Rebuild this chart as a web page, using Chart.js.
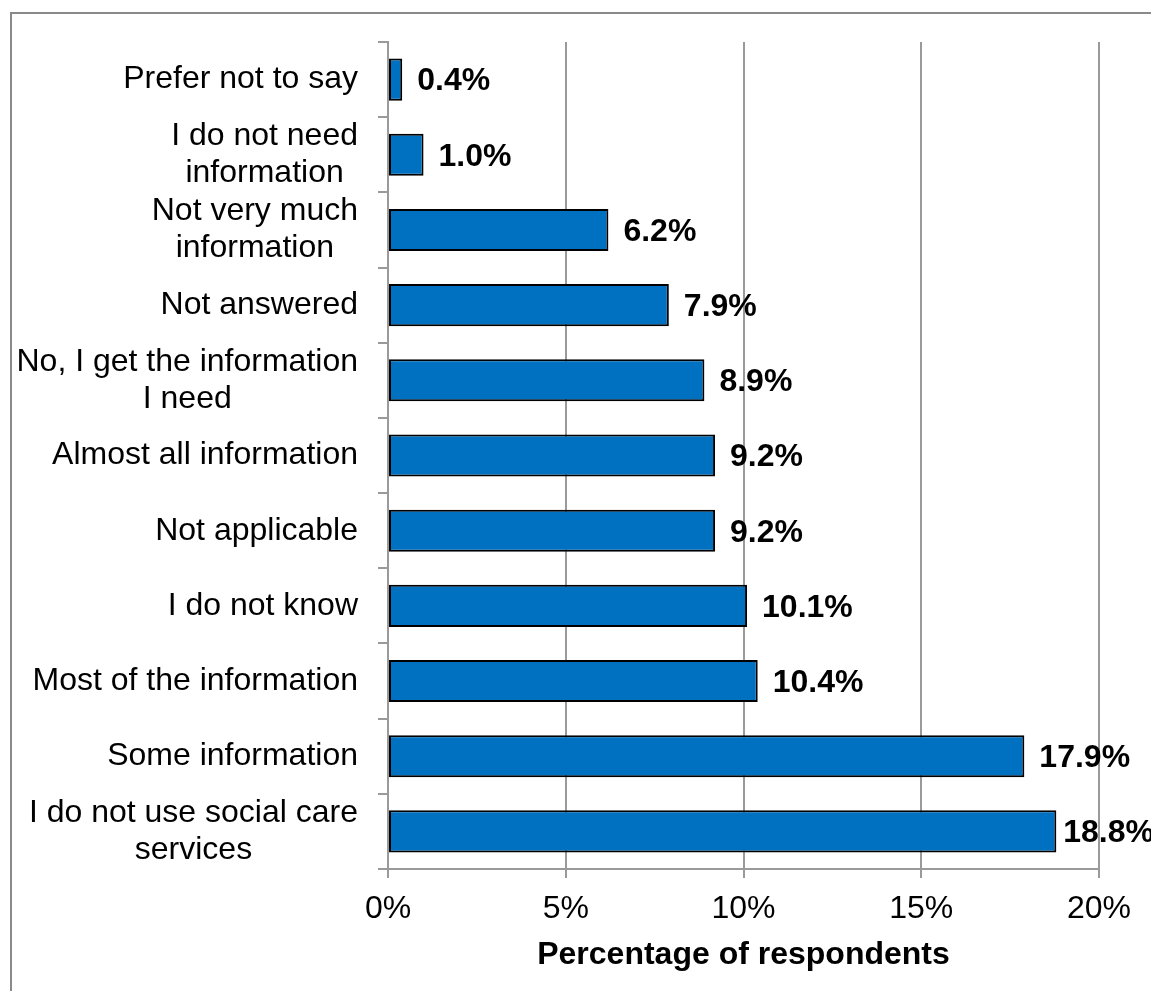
<!DOCTYPE html>
<html>
<head>
<meta charset="utf-8">
<script src="https://cdn.jsdelivr.net/npm/chart.js@4"></script>
<style>
    html, body { margin: 0; padding: 0; background: #fff; overflow: hidden; }
    #frame {
        position: absolute; left: 10px; top: 12px;
        width: 1300px; height: 1200px;
        border: 2px solid #8a8a8a; box-sizing: border-box;
    }
    #chart { position: absolute; left: 0; top: 0; }
</style>
</head>
<body>
<div id="frame"></div>
<canvas id="chart" width="1151" height="991"></canvas>
<script>
'use strict';

// answers, top of the chart first
const categories = [
    ['Prefer not to say'],
    ['I do not need', 'information'],
    ['Not very much', 'information'],
    ['Not answered'],
    ['No, I get the information', 'I need'],
    ['Almost all information'],
    ['Not applicable'],
    ['I do not know'],
    ['Most of the information'],
    ['Some information'],
    ['I do not use social care', 'services'],
];
const shares = [0.4, 1.0, 6.2, 7.9, 8.9, 9.2, 9.2, 10.1, 10.4, 17.9, 18.8];
const xTicks = [0, 5, 10, 15, 20];

const FONT = '"Liberation Sans", Arial, sans-serif';
const SIZE = 32;
const GRID = '#9a9a9a';

// category labels: each block right-aligned to the axis, lines centred within it
const categoryLabels = {
    id: 'categoryLabels',
    afterDraw(chart) {
        const ctx = chart.ctx;
        const y = chart.scales.y;
        const right = chart.chartArea.left - 30;
        const lineH = 37;
        ctx.save();
        ctx.font = `${SIZE}px ${FONT}`;
        ctx.fillStyle = '#000';
        ctx.textAlign = 'center';
        ctx.textBaseline = 'middle';
        categories.forEach((lines, i) => {
            const widest = Math.max(...lines.map(l => ctx.measureText(l).width));
            const cx = right - widest / 2;
            const cy = y.getPixelForValue(i);
            const top = cy - (lines.length - 1) * lineH / 2;
            lines.forEach((l, k) => ctx.fillText(l, cx, top + k * lineH));
        });
        ctx.restore();
    }
};

// bold value labels just past the end of each bar, pulled back near the edge
const valueLabels = {
    id: 'valueLabels',
    afterDatasetsDraw(chart) {
        const ctx = chart.ctx;
        const meta = chart.getDatasetMeta(0);
        ctx.save();
        ctx.font = `bold ${SIZE}px ${FONT}`;
        ctx.fillStyle = '#000';
        ctx.textAlign = 'left';
        ctx.textBaseline = 'middle';
        meta.data.forEach((bar, i) => {
            const text = shares[i].toFixed(1) + '%';
            const w = ctx.measureText(text).width;
            const x = Math.min(bar.x + 15, chart.width + 3 - w);
            ctx.fillText(text, x, bar.y + 2);
        });
        ctx.restore();
    }
};

new Chart(document.getElementById('chart'), {
    type: 'bar',
    data: {
        labels: categories,
        datasets: [{
            data: shares,
            backgroundColor: '#0070C0',
            borderColor: '#000',
            borderWidth: 2,
            borderSkipped: false,
            barPercentage: 0.56,
            categoryPercentage: 1,
        }],
    },
    options: {
        indexAxis: 'y',
        responsive: false,
        animation: false,
        devicePixelRatio: 1,
        layout: { padding: { top: 42, right: 52, bottom: 0, left: 0 } },
        plugins: {
            legend: { display: false },
            tooltip: { enabled: false },
        },
        scales: {
            x: {
                min: 0,
                max: 20,
                afterBuildTicks: scale => { scale.ticks = xTicks.map(v => ({ value: v })); },
                afterFit: scale => { scale.height = 122; },
                ticks: {
                    callback: v => v + '%',
                    color: '#000',
                    font: { family: FONT, size: SIZE },
                    padding: 12,
                    maxRotation: 0,
                },
                grid: { color: GRID, lineWidth: 2, tickLength: 9 },
                border: { color: GRID, width: 2 },
                title: {
                    display: true,
                    text: 'Percentage of respondents',
                    color: '#000',
                    font: { family: FONT, size: SIZE, weight: 'bold' },
                    padding: { top: 0, bottom: 17 },
                },
            },
            y: {
                afterFit: scale => { scale.width = 388; },
                ticks: { display: false },
                grid: { drawOnChartArea: false, color: GRID, lineWidth: 2, tickLength: 10, offset: true },
                border: { color: GRID, width: 2 },
            },
        },
    },
    plugins: [categoryLabels, valueLabels],
});
</script>
</body>
</html>
